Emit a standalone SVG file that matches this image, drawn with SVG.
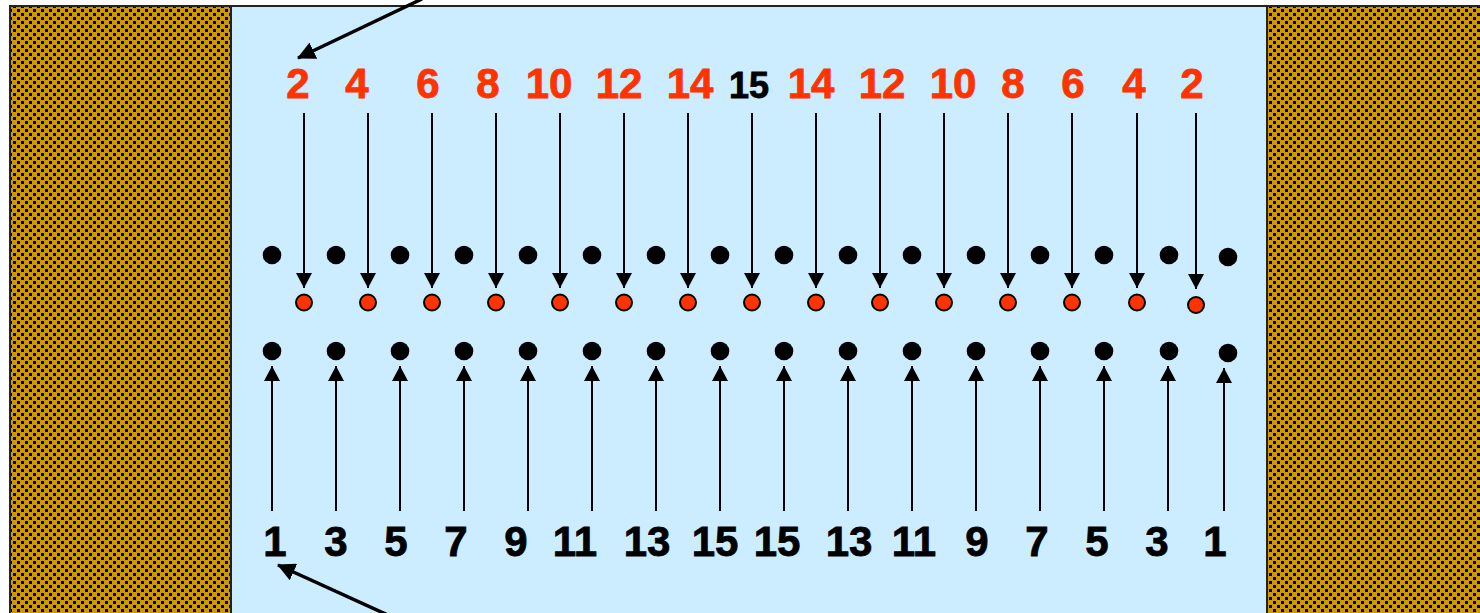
<svg xmlns="http://www.w3.org/2000/svg" width="1480" height="613" viewBox="0 0 1480 613">
<defs>
<pattern id="hatch" patternUnits="userSpaceOnUse" x="0" y="0" width="8" height="8">
<rect width="8" height="8" fill="#CC9900"/>
<rect x="1" y="1" width="3" height="3" fill="#000"/>
<rect x="5" y="5" width="3" height="3" fill="#000"/>
</pattern>
<marker id="ah" viewBox="0 0 15 16" refX="15" refY="8" markerWidth="15" markerHeight="16" markerUnits="userSpaceOnUse" orient="auto">
<path d="M0,0 L15,8 L0,16 z" fill="#000"/>
</marker>
<marker id="ah2" viewBox="0 0 18 18" refX="17" refY="9" markerWidth="18" markerHeight="18" markerUnits="userSpaceOnUse" orient="auto">
<path d="M0,0 L18,9 L0,18 z" fill="#000"/>
</marker>
</defs>
<style>
.lbl{font-family:"Liberation Sans",Arial,sans-serif;font-weight:bold;font-size:42px;text-anchor:middle;stroke-width:0.8;paint-order:stroke}
.red{fill:#FF3300;stroke:#FF3300}
.blk{fill:#000;stroke:#000}
.mid{font-size:36px}
.dot{fill:#000}
.rdot{fill:#FF3300;stroke:#000;stroke-width:2}
.arr{stroke:#000;stroke-width:2;fill:none}
.big{stroke:#000;stroke-width:3.5;fill:none}
</style>
<rect width="1480" height="613" fill="#fff"/>
<g id="frame">
<rect x="10" y="6" width="221" height="620" fill="url(#hatch)" stroke="#222" stroke-width="2"/>
<rect x="231" y="6" width="1036" height="620" fill="#CCECFF" stroke="#222" stroke-width="2"/>
<rect x="1267" y="6" width="230" height="620" fill="url(#hatch)" stroke="#222" stroke-width="2"/>
</g>
<g id="top-labels">
<text class="lbl red" x="298" y="98">2</text>
<text class="lbl red" x="357" y="98">4</text>
<text class="lbl red" x="428" y="98">6</text>
<text class="lbl red" x="488" y="98">8</text>
<text class="lbl red" x="549" y="98">10</text>
<text class="lbl red" x="619" y="98">12</text>
<text class="lbl red" x="690" y="98">14</text>
<text class="lbl blk mid" x="749" y="98">15</text>
<text class="lbl red" x="811" y="98">14</text>
<text class="lbl red" x="882" y="98">12</text>
<text class="lbl red" x="953" y="98">10</text>
<text class="lbl red" x="1013" y="98">8</text>
<text class="lbl red" x="1073" y="98">6</text>
<text class="lbl red" x="1134" y="98">4</text>
<text class="lbl red" x="1192" y="98">2</text>
</g>
<g id="bottom-labels">
<text class="lbl blk" x="275" y="556">1</text>
<text class="lbl blk" x="336" y="556">3</text>
<text class="lbl blk" x="396" y="556">5</text>
<text class="lbl blk" x="456" y="556">7</text>
<text class="lbl blk" x="516" y="556">9</text>
<text class="lbl blk" x="575" y="556">11</text>
<text class="lbl blk" x="647" y="556">13</text>
<text class="lbl blk" x="715" y="556">15</text>
<text class="lbl blk" x="777" y="556">15</text>
<text class="lbl blk" x="849" y="556">13</text>
<text class="lbl blk" x="914" y="556">11</text>
<text class="lbl blk" x="977" y="556">9</text>
<text class="lbl blk" x="1037" y="556">7</text>
<text class="lbl blk" x="1097" y="556">5</text>
<text class="lbl blk" x="1157" y="556">3</text>
<text class="lbl blk" x="1215" y="556">1</text>
</g>
<g id="upper-dots">
<circle class="dot" cx="272" cy="255" r="9.3"/>
<circle class="dot" cx="336" cy="255" r="9.3"/>
<circle class="dot" cx="400" cy="255" r="9.3"/>
<circle class="dot" cx="464" cy="255" r="9.3"/>
<circle class="dot" cx="528" cy="255" r="9.3"/>
<circle class="dot" cx="592" cy="255" r="9.3"/>
<circle class="dot" cx="656" cy="255" r="9.3"/>
<circle class="dot" cx="720" cy="255" r="9.3"/>
<circle class="dot" cx="784" cy="255" r="9.3"/>
<circle class="dot" cx="848" cy="255" r="9.3"/>
<circle class="dot" cx="912" cy="255" r="9.3"/>
<circle class="dot" cx="976" cy="255" r="9.3"/>
<circle class="dot" cx="1040" cy="255" r="9.3"/>
<circle class="dot" cx="1104" cy="255" r="9.3"/>
<circle class="dot" cx="1169" cy="255" r="9.3"/>
<circle class="dot" cx="1228" cy="257" r="9.3"/>
</g>
<g id="red-dots">
<circle class="rdot" cx="304" cy="302.5" r="8"/>
<circle class="rdot" cx="368" cy="302.5" r="8"/>
<circle class="rdot" cx="432" cy="302.5" r="8"/>
<circle class="rdot" cx="496" cy="302.5" r="8"/>
<circle class="rdot" cx="560" cy="302.5" r="8"/>
<circle class="rdot" cx="624" cy="302.5" r="8"/>
<circle class="rdot" cx="688" cy="302.5" r="8"/>
<circle class="rdot" cx="752" cy="302.5" r="8"/>
<circle class="rdot" cx="816" cy="302.5" r="8"/>
<circle class="rdot" cx="880" cy="302.5" r="8"/>
<circle class="rdot" cx="944" cy="302.5" r="8"/>
<circle class="rdot" cx="1008" cy="302.5" r="8"/>
<circle class="rdot" cx="1072" cy="302.5" r="8"/>
<circle class="rdot" cx="1137" cy="302.5" r="8"/>
<circle class="rdot" cx="1196" cy="305" r="8"/>
</g>
<g id="lower-dots">
<circle class="dot" cx="272" cy="351" r="9.3"/>
<circle class="dot" cx="336" cy="351" r="9.3"/>
<circle class="dot" cx="400" cy="351" r="9.3"/>
<circle class="dot" cx="464" cy="351" r="9.3"/>
<circle class="dot" cx="528" cy="351" r="9.3"/>
<circle class="dot" cx="592" cy="351" r="9.3"/>
<circle class="dot" cx="656" cy="351" r="9.3"/>
<circle class="dot" cx="720" cy="351" r="9.3"/>
<circle class="dot" cx="784" cy="351" r="9.3"/>
<circle class="dot" cx="848" cy="351" r="9.3"/>
<circle class="dot" cx="912" cy="351" r="9.3"/>
<circle class="dot" cx="976" cy="351" r="9.3"/>
<circle class="dot" cx="1040" cy="351" r="9.3"/>
<circle class="dot" cx="1104" cy="351" r="9.3"/>
<circle class="dot" cx="1169" cy="351" r="9.3"/>
<circle class="dot" cx="1228" cy="353" r="9.3"/>
</g>
<g id="connectors">
<g class="arr" marker-end="url(#ah)">
<path d="M304,113V288"/>
<path d="M368,113V288"/>
<path d="M432,113V288"/>
<path d="M496,113V288"/>
<path d="M560,113V288"/>
<path d="M624,113V288"/>
<path d="M688,113V288"/>
<path d="M752,113V288"/>
<path d="M816,113V288"/>
<path d="M880,113V288"/>
<path d="M944,113V288"/>
<path d="M1008,113V288"/>
<path d="M1072,113V288"/>
<path d="M1137,113V288"/>
<path d="M1196,113V289"/>
<path d="M272,511V366"/>
<path d="M336,511V366"/>
<path d="M400,511V366"/>
<path d="M464,511V366"/>
<path d="M528,511V366"/>
<path d="M592,511V366"/>
<path d="M656,511V366"/>
<path d="M720,511V366"/>
<path d="M784,511V366"/>
<path d="M848,511V366"/>
<path d="M912,511V366"/>
<path d="M976,511V366"/>
<path d="M1040,511V366"/>
<path d="M1104,511V366"/>
<path d="M1168,511V366"/>
<path d="M1224,511V368"/>
</g>
<path class="big" d="M422,-1L298,58" marker-end="url(#ah2)"/>
<path class="big" d="M390,616L278,565" marker-end="url(#ah2)"/>
</g>
</svg>
